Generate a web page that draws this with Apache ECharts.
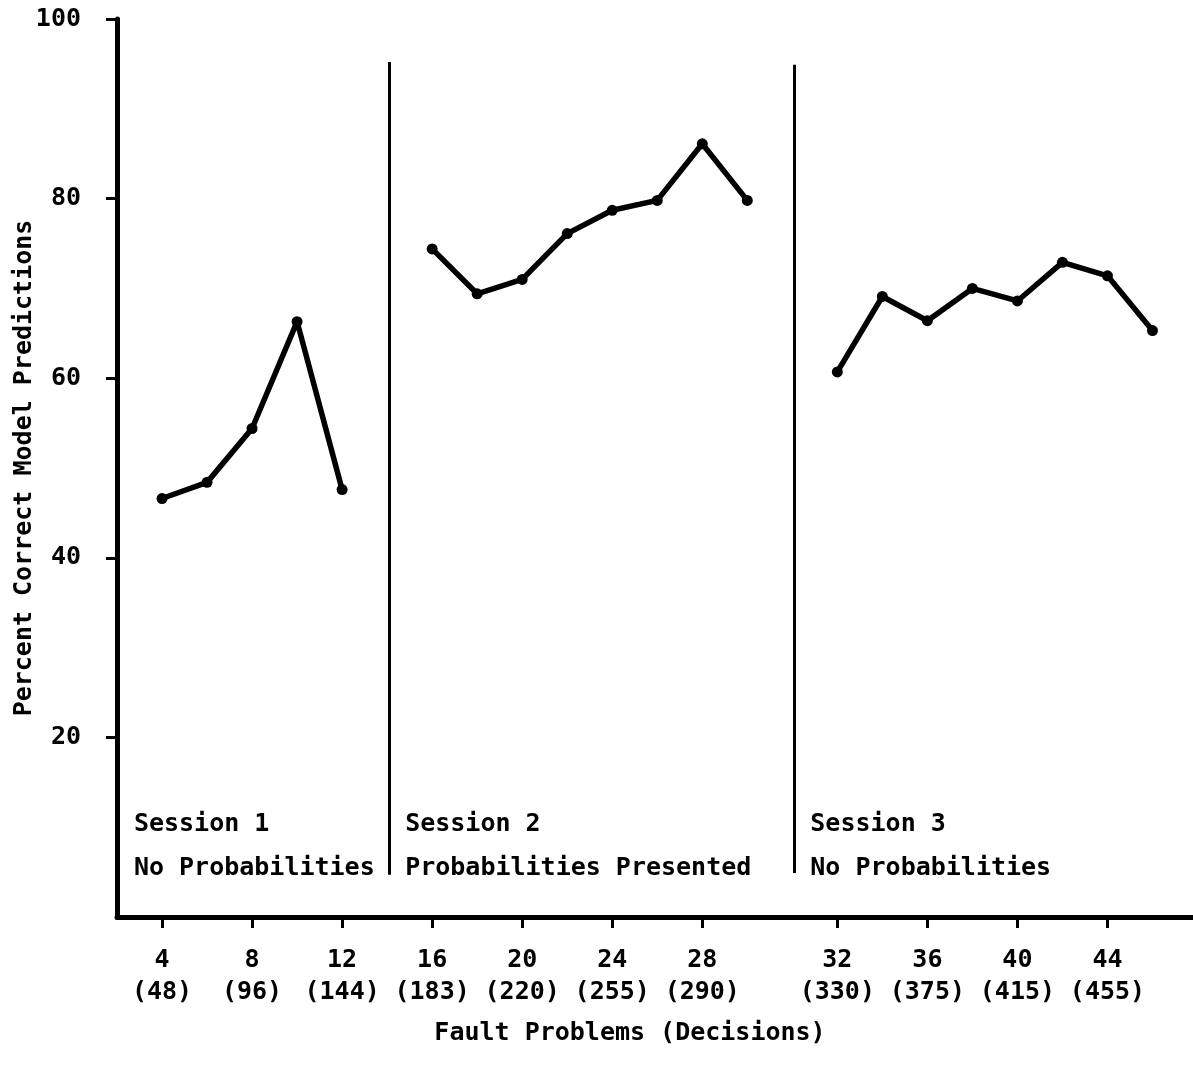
<!DOCTYPE html>
<html>
<head>
<meta charset="utf-8">
<script src="https://cdn.jsdelivr.net/npm/echarts@6/dist/echarts.min.js"></script>
<style>
html,body{margin:0;padding:0;background:#fff;}
#chart{width:1193px;height:1068px;}
</style>
</head>
<body>
<div id="chart"></div>
<script>
// ---- data ----
const session1Problems = [4, 6, 8, 10, 12];
const session1Percent = [46.6, 48.4, 54.4, 66.3, 47.6];
const session2Problems = [16, 18, 20, 22, 24, 26, 28, 30];
const session2Percent = [74.4, 69.4, 71.0, 76.1, 78.7, 79.8, 86.1, 79.8];
const session3Problems = [32, 34, 36, 38, 40, 42, 44, 46];
const session3Percent = [60.7, 69.1, 66.4, 70.0, 68.6, 72.9, 71.4, 65.3];

const tickProblems = [4, 8, 12, 16, 20, 24, 28, 32, 36, 40, 44];
const tickDecisions = [48, 96, 144, 183, 220, 255, 290, 330, 375, 415, 455];
const yTicks = [20, 40, 60, 80, 100];

const sessionLabels = [
  ['Session 1', 'No Probabilities'],
  ['Session 2', 'Probabilities Presented'],
  ['Session 3', 'No Probabilities']
];
// session 3 is drawn after an extra gap on the axis
const session3Start = 32;
const session3Gap = 2;

function pos(p) { return p >= session3Start ? p + session3Gap : p; }

const FONT = "'DejaVu Sans Mono', 'Liberation Mono', monospace";
const WEIGHT = 'bold';
const chart = echarts.init(document.getElementById('chart'), null, {renderer: 'canvas'});

function seriesFor(problems, values, name) {
  return {
    name: name,
    type: 'line',
    data: problems.map((p, i) => [pos(p), values[i]]),
    symbol: 'circle',
    symbolSize: 11,
    lineStyle: {color: '#000', width: 5.5, cap: 'round', join: 'round'},
    itemStyle: {color: '#000'},
    z: 3,
    silent: true
  };
}

const breakLines = {
  name: 'breaks',
  type: 'line',
  data: [],
  silent: true,
  markLine: {
    symbol: 'none',
    silent: true,
    label: {show: false},
    lineStyle: {color: '#000', width: 3, type: 'solid'},
    data: [
      [{coord: [14.1, 95.2]}, {coord: [14.1, 4.7]}],
      [{coord: [32.1, 94.9]}, {coord: [32.1, 4.9]}]
    ]
  }
};

const option = {
  animation: false,
  backgroundColor: '#fff',
  grid: {left: 117, right: 0, top: 19, bottom: 151, containLabel: false, outerBoundsMode: 'none'},
  xAxis: {
    type: 'value',
    min: 2,
    max: 49.8,
    splitLine: {show: false},
    axisLine: {show: true, onZero: false, lineStyle: {color: '#000', width: 5}},
    axisTick: {show: true, length: 11, customValues: tickProblems.map(pos), lineStyle: {color: '#000', width: 3}},
    axisLabel: {
      customValues: tickProblems.map(pos),
      margin: 27,
      color: '#000',
      fontFamily: FONT,
      fontWeight: WEIGHT,
      fontSize: 25,
      lineHeight: 32,
      formatter: function (v) {
        const i = tickProblems.map(pos).indexOf(v);
        return i < 0 ? '' : tickProblems[i] + '\n(' + tickDecisions[i] + ')';
      }
    }
  },
  yAxis: {
    type: 'value',
    min: 0,
    max: 100,
    splitLine: {show: false},
    name: 'Percent Correct Model Predictions',
    nameLocation: 'middle',
    nameGap: 80,
    nameRotate: 90,
    nameMoveOverlap: false,
    nameTextStyle: {color: '#000', fontFamily: FONT, fontWeight: WEIGHT, fontSize: 25},
    axisLine: {show: true, onZero: false, lineStyle: {color: '#000', width: 5}},
    axisTick: {show: true, length: 11, customValues: yTicks, lineStyle: {color: '#000', width: 3}},
    axisLabel: {
      customValues: yTicks,
      margin: 36,
      color: '#000',
      fontFamily: FONT,
      fontWeight: WEIGHT,
      fontSize: 25
    }
  },
  series: [
    seriesFor(session1Problems, session1Percent, 'Session 1'),
    seriesFor(session2Problems, session2Percent, 'Session 2'),
    seriesFor(session3Problems, session3Percent, 'Session 3'),
    breakLines
  ]
};
chart.setOption(option);

// Session annotations placed relative to the axis scales
const labelAnchors = [2.75, 14.8, 32.8];
const g = [];
const f = WEIGHT + ' 25px ' + FONT;
sessionLabels.forEach((lines, k) => {
  const p1 = chart.convertToPixel({gridIndex: 0}, [labelAnchors[k], 10.3]);
  const p2 = chart.convertToPixel({gridIndex: 0}, [labelAnchors[k], 5.4]);
  g.push({type: 'text', x: p1[0], y: p1[1], style: {text: lines[0], fill: '#000', font: f, verticalAlign: 'middle'}});
  g.push({type: 'text', x: p2[0], y: p2[1], style: {text: lines[1], fill: '#000', font: f, verticalAlign: 'middle'}});
});
g.push({type: 'text', x: 630, y: 1033, style: {text: 'Fault Problems (Decisions)', fill: '#000', font: f, align: 'center', verticalAlign: 'middle'}});
chart.setOption({graphic: g});
</script>
</body>
</html>
